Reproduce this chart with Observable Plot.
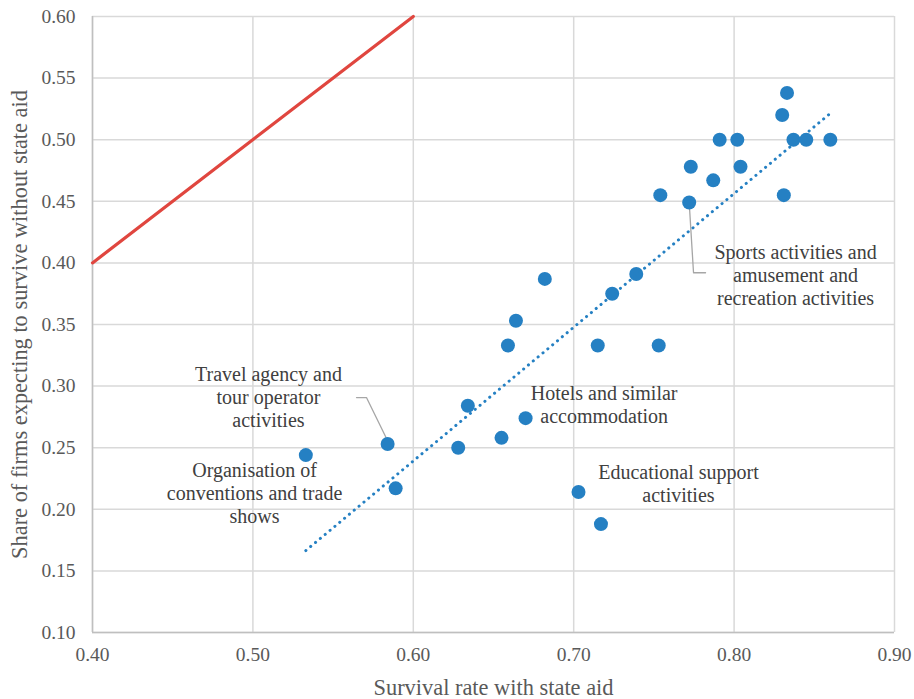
<!DOCTYPE html>
<html>
<head>
<meta charset="utf-8">
<script src="https://cdn.jsdelivr.net/npm/d3@7"></script>
<script src="https://cdn.jsdelivr.net/npm/@observablehq/plot@0.6"></script>
<style>
  html, body { margin: 0; padding: 0; background: #fff; }
  svg { display: block; }
  #chart svg, #chart svg text { font-family: "Liberation Serif", "Times New Roman", serif !important; }
</style>
</head>
<body>
<div id="chart"></div>
<script>
// Survival rate with state aid (x) vs share expecting to survive without aid (y)
const survivalWithAid = [0.533, 0.584, 0.589, 0.628, 0.634, 0.655, 0.659, 0.664, 0.670, 0.682,
  0.703, 0.715, 0.717, 0.724, 0.739, 0.753, 0.754, 0.772, 0.773, 0.787,
  0.791, 0.802, 0.804, 0.830, 0.831, 0.833, 0.837, 0.845, 0.860];
const survivalWithoutAid = [0.244, 0.253, 0.217, 0.250, 0.284, 0.258, 0.333, 0.353, 0.274, 0.387,
  0.214, 0.333, 0.188, 0.375, 0.391, 0.333, 0.455, 0.449, 0.478, 0.467,
  0.500, 0.500, 0.478, 0.520, 0.455, 0.538, 0.500, 0.500, 0.500];

// 45-degree reference line (y = x)
const equalityLine = [0.40, 0.60];

// Annotations
const labelTexts = [
  "Sports activities and\namusement and\nrecreation activities",
  "Travel agency and\ntour operator\nactivities",
  "Hotels and similar\naccommodation",
  "Educational support\nactivities",
  "Organisation of\nconventions and trade\nshows"
];
const labelX = [0.8383, 0.5097, 0.7190, 0.7653, 0.5010];
const labelY = [0.3905, 0.2915, 0.2855, 0.2215, 0.2135];

// Leader lines
const leaderSportsX = [0.772, 0.7747, 0.7822];
const leaderSportsY = [0.449, 0.392, 0.392];
const leaderTravelX = [0.5646, 0.5708, 0.5833];
const leaderTravelY = [0.2907, 0.2907, 0.2575];

const xTicks = [0.40, 0.50, 0.60, 0.70, 0.80, 0.90];
const yTicks = [0.10, 0.15, 0.20, 0.25, 0.30, 0.35, 0.40, 0.45, 0.50, 0.55, 0.60];
const xTitle = "Survival rate with state aid";
const yTitle = "Share of firms expecting to survive without state aid";

const points = survivalWithAid.map((x, i) => ({x, y: survivalWithoutAid[i]}));
const eq = equalityLine.map(v => ({x: v, y: v}));
const labels = labelTexts.map((t, i) => ({t, x: labelX[i], y: labelY[i]}));
const leaderS = leaderSportsX.map((x, i) => ({x, y: leaderSportsY[i]}));
const leaderT = leaderTravelX.map((x, i) => ({x, y: leaderTravelY[i]}));

const blue = "#2580c3";
const textGray = "#595959";
const chart = Plot.plot({
  width: 914,
  height: 699,
  marginLeft: 92,
  marginRight: 20,
  marginTop: 16,
  marginBottom: 67,
  style: {fontFamily: "Liberation Serif, serif", color: textGray, background: "#fff"},
  x: {domain: [0.40, 0.90], ticks: xTicks, tickFormat: d3.format(".2f")},
  y: {domain: [0.10, 0.60], ticks: yTicks, tickFormat: d3.format(".2f")},
  marks: [
    Plot.gridX(xTicks, {stroke: "#d9d9d9", strokeOpacity: 1, strokeWidth: 1.5}),
    Plot.gridY(yTicks, {stroke: "#d9d9d9", strokeOpacity: 1, strokeWidth: 1.5}),
    Plot.ruleX([0.40], {stroke: "#bfbfbf", strokeWidth: 1.5}),
    Plot.ruleY([0.10], {stroke: "#bfbfbf", strokeWidth: 1.5}),
    Plot.axisX({ticks: xTicks, tickFormat: d3.format(".2f"), tickSize: 0, tickPadding: 15, fontSize: 19.5, label: null}),
    Plot.axisY({ticks: yTicks, tickFormat: d3.format(".2f"), tickSize: 0, tickPadding: 17, fontSize: 19.5, label: null}),
    Plot.text([xTitle], {frameAnchor: "bottom", dy: 55, lineAnchor: "middle", textAnchor: "middle", fontSize: 22.4, fill: textGray}),
    Plot.text([yTitle], {frameAnchor: "left", dx: -73, rotate: -90, lineAnchor: "middle", textAnchor: "middle", fontSize: 22.4, fill: textGray}),
    Plot.line(eq, {x: "x", y: "y", stroke: "#e0463f", strokeWidth: 3.2}),
    Plot.line(leaderS, {x: "x", y: "y", stroke: "#a6a6a6", strokeWidth: 1.3}),
    Plot.line(leaderT, {x: "x", y: "y", stroke: "#a6a6a6", strokeWidth: 1.3}),
    Plot.dot(points, {x: "x", y: "y", r: 7, fill: blue, stroke: "none"}),
    Plot.linearRegressionY(points, {x: "x", y: "y", ci: 0, stroke: blue, strokeWidth: 3,
      strokeDasharray: "0.1,6.2", strokeLinecap: "round"}),
    Plot.text(labels, {x: "x", y: "y", text: "t", fontSize: 20, lineHeight: 1.15, fill: "#404040", textAnchor: "middle"})
  ]
});
document.getElementById("chart").appendChild(chart);
</script>
</body>
</html>
